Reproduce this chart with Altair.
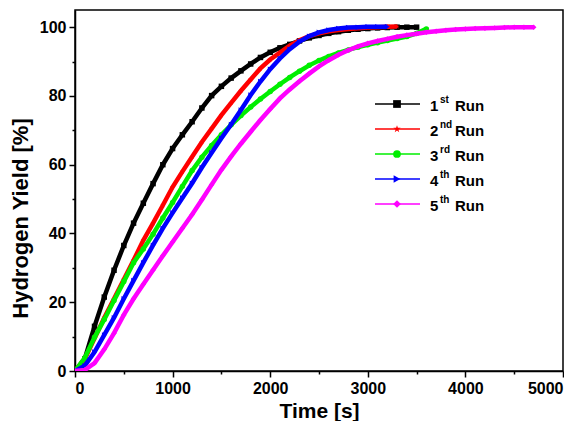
import altair as alt
import pandas as pd

runs = ["1st Run", "2nd Run", "3rd Run", "4th Run", "5th Run"]
nums = ["1", "2", "3", "4", "5"]
sups = ["st", "nd", "rd", "th", "th"]
colors = ["#000000", "#ff0000", "#00ee00", "#0000ff", "#ff00ff"]
STAR = "M0,-1L0.2245,-0.309L0.951,-0.309L0.363,0.118L0.588,0.809L0,0.382L-0.588,0.809L-0.363,0.118L-0.951,-0.309L-0.2245,-0.309Z"
shapes = ["square", STAR, "circle", "triangle-right", "diamond"]

step = 100  # s between readings

run1 = [0, 3.5, 13, 21.5, 29.3, 36.5, 43, 48.8, 54.5, 60, 64.7, 68.7, 72.5, 76.5, 80.1,
        82.8, 85.2, 87.3, 89.3, 91.2, 92.7, 94, 95, 96, 96.9, 97.6, 98.2, 98.7, 99.1,
        99.4, 99.6, 99.8, 99.9, 100, 100, 100]
run2 = [0, 3.5, 9.5, 15.5, 21, 26.6, 32.2, 38, 43, 48.2, 53.5, 58, 62.3, 66.6, 70.5,
        74.4, 78, 81.5, 84.8, 88, 90.6, 92.6, 94.6, 96.2, 97.4, 98.2, 98.8, 99.2, 99.5,
        99.7, 99.9, 100, 100.1, 100.2]
run3 = [0, 3.8, 9.8, 15, 20.5, 26, 31.5, 35.5, 39.8, 44.5, 49, 53.7, 58.3, 62.2, 65.6,
        68.7, 71.6, 74.3, 76.8, 79.1, 81.3, 83.4, 85.4, 87.2, 88.9, 90.3, 91.5, 92.5,
        93.4, 94.2, 94.9, 95.5, 96.1, 96.7, 97.3, 98.2, 99.5]
run4 = [0, 1.5, 5.5, 10.5, 15.5, 21, 26.3, 31.5, 36.6, 41.5, 46, 50.3, 54.6, 59.2, 63.5,
        67.7, 71.7, 75.9, 80.3, 84.2, 87.8, 90.9, 93.6, 95.8, 97.4, 98.5, 99.2, 99.6,
        99.9, 100, 100.1, 100.1, 100.1]
run5 = [0, 0.3, 2.3, 6.3, 11, 16.3, 21, 25.2, 29.4, 33.5, 37.5, 41.5, 45.5, 49.8, 54.2,
        58.5, 62.4, 66.1, 69.6, 73, 76.2, 79.3, 81.9, 84.3, 86.5, 88.6, 90.4, 92, 93.3,
        94.4, 95.3, 96, 96.6, 97.2, 97.7, 98.1, 98.5, 98.8, 99.1, 99.3, 99.5, 99.6, 99.7,
        99.8, 99.9, 100, 100, 100]
series = [run1, run2, run3, run4, run5]

x_ticks = list(range(0, 5001, 500))
y_ticks = list(range(0, 101, 10))

FONT = "Liberation Sans"

x_enc = alt.X("t:Q", scale=alt.Scale(domain=[0, 5000], nice=False, zero=False),
              axis=alt.Axis(values=x_ticks, format="d", title="Time [s]",
                            labelExpr="datum.value % 1000 === 0 ? datum.label : ''",
                            tickSize={"condition": {"test": "datum.value % 1000 === 0", "value": 6}, "value": 3},
                            grid=False, labelPadding=3, titlePadding=4, titleFontSize=21))
y_enc = alt.Y("y:Q", scale=alt.Scale(domain=[0, 105], nice=False),
              axis=alt.Axis(values=y_ticks, format="d", title="Hydrogen Yield [%]",
                            labelExpr="datum.value % 20 === 0 ? datum.label : ''",
                            tickSize={"condition": {"test": "datum.value % 20 === 0", "value": 6}, "value": 3},
                            grid=False, labelPadding=3, titlePadding=7, titleFontSize=22,
                            titleY=208))

layers = []
for i, vals in enumerate(series):
    d = pd.DataFrame({"t": [k * step for k in range(len(vals))], "y": vals, "run": runs[i]})
    base = alt.Chart(d)
    layers.append(base.mark_line(color=colors[i], strokeWidth=4.5, clip=True).encode(x=x_enc, y=y_enc))
    layers.append(base.mark_point(color=colors[i], filled=True, opacity=1, size=30,
                                  shape=shapes[i], clip=True).encode(x=x_enc, y=y_enc))

# legend
dummy = pd.DataFrame({"a": [0]})
row0, row_gap = 94, 25
for i in range(5):
    ry = row0 + i * row_gap
    lc = alt.Chart(dummy)
    layers.append(lc.mark_rule(color=colors[i], strokeWidth=1.5).encode(
        x=alt.value(300), x2=alt.value(345), y=alt.value(ry)))
    layers.append(lc.mark_point(color=colors[i], filled=True, opacity=1, size=60,
                                shape=shapes[i]).encode(x=alt.value(322), y=alt.value(ry)))
    layers.append(lc.mark_text(text=nums[i], font=FONT, fontSize=15, fontWeight="bold",
                               align="left", baseline="alphabetic", color="black").encode(
        x=alt.value(355), y=alt.value(ry + 7)))
    layers.append(lc.mark_text(text=sups[i], font=FONT, fontSize=10, fontWeight="bold",
                               align="left", baseline="alphabetic", color="black").encode(
        x=alt.value(365), y=alt.value(ry - 1)))
    layers.append(lc.mark_text(text="Run", font=FONT, fontSize=15, fontWeight="bold",
                               align="left", baseline="alphabetic", color="black").encode(
        x=alt.value(380), y=alt.value(ry + 7)))

chart = alt.layer(*layers).properties(
    width=488, height=361,
    padding={"left": 1, "top": 2, "right": 0, "bottom": 0},
    background="white",
).configure_view(
    stroke="black", strokeWidth=1.5
).configure_axis(
    labelFont=FONT, labelFontSize=16, labelFontWeight="bold", labelColor="black",
    titleFont=FONT, titleFontWeight="bold", titleColor="black",
    domainColor="black", domainWidth=1.5, tickColor="black", tickWidth=1.5,
)

chart.save("out.html", embed_options={"renderer": "svg", "actions": False})
